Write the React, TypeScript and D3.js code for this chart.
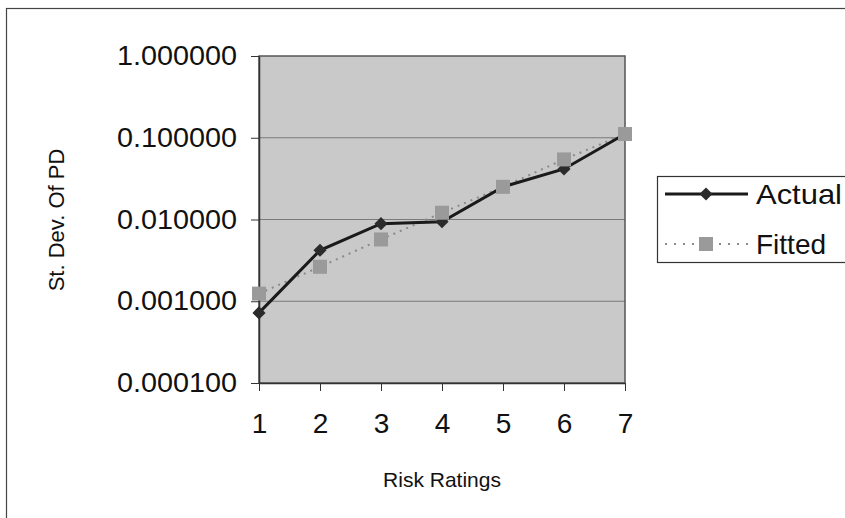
import React, { useEffect, useRef } from 'react';
import * as d3 from 'd3';

const ratings = ['1', '2', '3', '4', '5', '6', '7'];
const actual = [0.00072, 0.0042, 0.0089, 0.0094, 0.0251, 0.0415, 0.111];
const fitted = [0.00124, 0.00264, 0.0057, 0.0121, 0.0251, 0.0543, 0.111];
const yTicks = [0.0001, 0.001, 0.01, 0.1, 1];

const FONT = '"Liberation Sans", Arial, sans-serif';

const App = () => {
  const svgRef = useRef<SVGSVGElement>(null);

  useEffect(() => {
    const W = 845;
    const H = 518;
    const plot = { left: 259, right: 625, top: 56, bottom: 383 };

    const svg = d3.select(svgRef.current).attr('width', W).attr('height', H);
    svg.selectAll('*').remove();

    svg.append('rect').attr('width', W).attr('height', H).attr('fill', '#fff');

    // chart frame (cropped at right / bottom)
    svg.append('rect')
      .attr('x', 6.5).attr('y', 8.5)
      .attr('width', W + 20).attr('height', H + 20)
      .attr('fill', 'none').attr('stroke', '#444').attr('stroke-width', 1.2);

    const xScale = d3.scalePoint()
      .domain(ratings)
      .range([plot.left, plot.right]);

    const yScale = d3.scaleLog()
      .domain([0.0001, 1])
      .range([plot.bottom, plot.top]);

    // plot background
    svg.append('rect')
      .attr('x', plot.left).attr('y', plot.top)
      .attr('width', plot.right - plot.left).attr('height', plot.bottom - plot.top)
      .attr('fill', '#c9c9c9');

    // gridlines
    svg.append('g')
      .selectAll('line')
      .data(yTicks.slice(1, -1))
      .enter().append('line')
      .attr('x1', plot.left).attr('x2', plot.right)
      .attr('y1', d => yScale(d)).attr('y2', d => yScale(d))
      .attr('stroke', '#7a7a7a').attr('stroke-width', 1);

    // plot border
    svg.append('rect')
      .attr('x', plot.left).attr('y', plot.top)
      .attr('width', plot.right - plot.left).attr('height', plot.bottom - plot.top)
      .attr('fill', 'none').attr('stroke', '#555').attr('stroke-width', 1.5);

    // axes
    const yAxis = d3.axisLeft(yScale)
      .tickValues(yTicks)
      .tickFormat(d => (+d).toFixed(6))
      .tickSizeInner(8)
      .tickSizeOuter(0)
      .tickPadding(14);

    const gy = svg.append('g')
      .attr('transform', `translate(${plot.left},0)`)
      .call(yAxis);
    gy.select('.domain').attr('stroke', '#333').attr('stroke-width', 1.5);
    gy.selectAll('.tick line').attr('stroke', '#333');
    gy.selectAll('text')
      .attr('font-family', FONT).attr('font-size', 27).attr('fill', '#111')
      .attr('textLength', 120).attr('lengthAdjust', 'spacingAndGlyphs');

    const xAxis = d3.axisBottom(xScale)
      .tickSizeInner(8)
      .tickSizeOuter(0)
      .tickPadding(22);

    const gx = svg.append('g')
      .attr('transform', `translate(0,${plot.bottom})`)
      .call(xAxis);
    gx.select('.domain').attr('stroke', '#333').attr('stroke-width', 1.5);
    gx.selectAll('.tick line').attr('stroke', '#333');
    gx.selectAll('text')
      .attr('font-family', FONT).attr('font-size', 28).attr('fill', '#111');

    // axis titles
    svg.append('text')
      .attr('x', 442).attr('y', 487)
      .attr('text-anchor', 'middle')
      .attr('font-family', FONT).attr('font-size', 21).attr('fill', '#111')
      .text('Risk Ratings');

    svg.append('text')
      .attr('transform', 'translate(64,220) rotate(-90)')
      .attr('text-anchor', 'middle')
      .attr('font-family', FONT).attr('font-size', 22).attr('fill', '#111')
      .text('St. Dev. Of PD');

    const line = (vals: number[]) =>
      d3.line<number>()
        .x((_, i) => xScale(ratings[i]) as number)
        .y(d => yScale(d))(vals);

    // fitted series
    svg.append('path')
      .attr('d', line(fitted))
      .attr('fill', 'none').attr('stroke', '#8a8a8a')
      .attr('stroke-width', 2).attr('stroke-dasharray', '2,5');

    // actual series
    svg.append('path')
      .attr('d', line(actual))
      .attr('fill', 'none').attr('stroke', '#1a1a1a').attr('stroke-width', 3);

    const diamond = d3.symbol().type(d3.symbolDiamond2).size(110);

    svg.append('g')
      .selectAll('path')
      .data(actual)
      .enter().append('path')
      .attr('d', diamond)
      .attr('transform', (d, i) => `translate(${xScale(ratings[i])},${yScale(d)})`)
      .attr('fill', '#2b2b2b');

    svg.append('g')
      .selectAll('rect')
      .data(fitted)
      .enter().append('rect')
      .attr('x', (_, i) => (xScale(ratings[i]) as number) - 7)
      .attr('y', d => yScale(d) - 7)
      .attr('width', 14).attr('height', 14)
      .attr('fill', '#9a9a9a');

    // legend
    const lg = svg.append('g');
    lg.append('rect')
      .attr('x', 657.5).attr('y', 176.5)
      .attr('width', 200).attr('height', 86)
      .attr('fill', '#fff').attr('stroke', '#333').attr('stroke-width', 1.2);

    lg.append('line')
      .attr('x1', 665).attr('x2', 748).attr('y1', 194).attr('y2', 194)
      .attr('stroke', '#1a1a1a').attr('stroke-width', 3);
    lg.append('path')
      .attr('d', diamond)
      .attr('transform', 'translate(706,194)')
      .attr('fill', '#2b2b2b');
    lg.append('text')
      .attr('x', 756).attr('y', 204)
      .attr('font-family', FONT).attr('font-size', 28).attr('fill', '#111')
      .attr('textLength', 86).attr('lengthAdjust', 'spacingAndGlyphs')
      .text('Actual');

    lg.append('line')
      .attr('x1', 665).attr('x2', 748).attr('y1', 244).attr('y2', 244)
      .attr('stroke', '#8a8a8a').attr('stroke-width', 2).attr('stroke-dasharray', '2,7');
    lg.append('rect')
      .attr('x', 699).attr('y', 237).attr('width', 14).attr('height', 14)
      .attr('fill', '#9a9a9a');
    lg.append('text')
      .attr('x', 756).attr('y', 254)
      .attr('font-family', FONT).attr('font-size', 28).attr('fill', '#111')
      .text('Fitted');
  }, []);

  return (
    <svg
      ref={svgRef}
      style={{ position: 'absolute', left: 0, top: 0, display: 'block' }}
    ></svg>
  );
};

export default App;
